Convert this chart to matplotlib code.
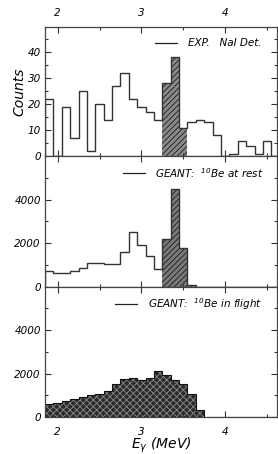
import matplotlib
matplotlib.use("Agg")
import matplotlib.pyplot as plt

# bin edges (MeV), 0.1 MeV bins
edges = [1.85, 1.95, 2.05, 2.15, 2.25, 2.35, 2.45, 2.55, 2.65, 2.75,
         2.85, 2.95, 3.05, 3.15, 3.25, 3.35, 3.45, 3.55, 3.65, 3.75,
         3.85, 3.95, 4.05, 4.15, 4.25, 4.35, 4.45, 4.55, 4.65]

# experiment, NaI detector (counts)
exp_counts = [22, 0, 19, 7, 25, 2, 20, 14, 27, 32, 22, 19, 17, 14,
              28, 38, 11, 13, 14, 13, 8, 0, 1, 6, 4, 1, 6, 0]

# GEANT, 10Be at rest
rest_counts = [700, 650, 650, 700, 850, 1100, 1080, 1050, 1060, 1600,
               2500, 1900, 1400, 800, 2200, 4500, 1800, 100, 0, 0,
               0, 0, 0, 0, 0, 0, 0, 0]

# GEANT, 10Be in flight
flight_counts = [600, 660, 720, 815, 910, 1015, 1060, 1200, 1510, 1740,
                 1790, 1690, 1800, 2110, 1920, 1690, 1510, 1060, 310, 0,
                 0, 0, 0, 0, 0, 0, 0, 0]

# hatched peak region (bin index ranges)
exp_peak = (14, 17)
rest_peak = (14, 18)

labels = ["EXP.   NaI Det.",
          r"GEANT:  $^{10}$Be at rest",
          r"GEANT:  $^{10}$Be in flight"]

plt.rcParams['font.family'] = ['DejaVu Sans']
plt.rcParams['font.style'] = 'italic'
plt.rcParams['mathtext.fontset'] = 'custom'
plt.rcParams['mathtext.it'] = 'DejaVu Sans:italic'
plt.rcParams['mathtext.rm'] = 'DejaVu Sans:italic'
plt.rcParams['mathtext.default'] = 'it'
plt.rcParams['hatch.linewidth'] = 0.6

fig = plt.figure(figsize=(2.78, 4.54), dpi=100)
left, right = 0.162, 0.997
ax1 = fig.add_axes([left, 0.656, right - left, 0.284])
ax2 = fig.add_axes([left, 0.3685, right - left, 0.2875])
ax3 = fig.add_axes([left, 0.0815, right - left, 0.2870])

line_col = '#333333'

# top: experiment
ax1.stairs(exp_counts[exp_peak[0]:exp_peak[1]], edges[exp_peak[0]:exp_peak[1] + 1],
           fill=True, facecolor='#8a8a8a', edgecolor='#1a1a1a', hatch='//////', linewidth=0)
ax1.stairs(exp_counts, edges, color=line_col, linewidth=1.0, baseline=0)
ax1.set_ylim(0, 49.5)
ax1.set_yticks([0, 10, 20, 30, 40])
ax1.set_yticks([5, 15, 25, 35, 45], minor=True)
ax1.set_ylabel("Counts", fontsize=10, labelpad=1)

# middle: at rest
ax2.stairs(rest_counts[rest_peak[0]:rest_peak[1]], edges[rest_peak[0]:rest_peak[1] + 1],
           fill=True, facecolor='#7a7a7a', edgecolor='#1a1a1a', hatch='//////', linewidth=0)
ax2.stairs(rest_counts, edges, color=line_col, linewidth=1.0, baseline=0)

# bottom: in flight
ax3.stairs(flight_counts, edges, fill=True, facecolor='#2a2a2a',
           edgecolor='#8c8c8c', hatch='xxxxx', linewidth=0)
ax3.stairs(flight_counts, edges, color='#111111', linewidth=0.8, baseline=0)
ax3.set_xlabel(r"$E_\gamma$ (MeV)", fontsize=10, labelpad=-1)

for ax in (ax2, ax3):
    ax.set_ylim(0, 6000)
    ax.set_yticks([0, 2000, 4000])
    ax.set_yticks([1000, 3000, 5000], minor=True)

for ax in (ax1, ax2, ax3):
    ax.set_xlim(1.85, 4.62)
    ax.set_xticks([2, 3, 4])
    ax.set_xticks([2.5, 3.5, 4.5], minor=True)
    ax.tick_params(which='both', direction='in', top=True, right=True,
                   labelsize=7.5, pad=3, width=0.8, color='#333333')
    ax.tick_params(which='major', length=4)
    ax.tick_params(which='minor', length=2)
    ax.tick_params(axis='x', which='major', pad=7)
    for s in ax.spines.values():
        s.set_color('#444444')
        s.set_linewidth(0.9)

ax1.tick_params(axis='x', labelbottom=False, labeltop=True)
ax2.tick_params(axis='x', labelbottom=False)

# legend entries: short line + label
legend_pos = [(ax1, 0.474, 0.569, 0.878, 0.616),
              (ax2, 0.336, 0.431, 0.870, 0.474),
              (ax3, 0.302, 0.397, 0.867, 0.444)]
for (ax, x0, x1, y, xt), lab in zip(legend_pos, labels):
    ax.plot([x0, x1], [y, y], transform=ax.transAxes, color='#222222', linewidth=0.9)
    ax.text(xt, y, lab, transform=ax.transAxes, fontsize=7.5, va='center', ha='left')

fig.savefig("out.png", dpi=100)
